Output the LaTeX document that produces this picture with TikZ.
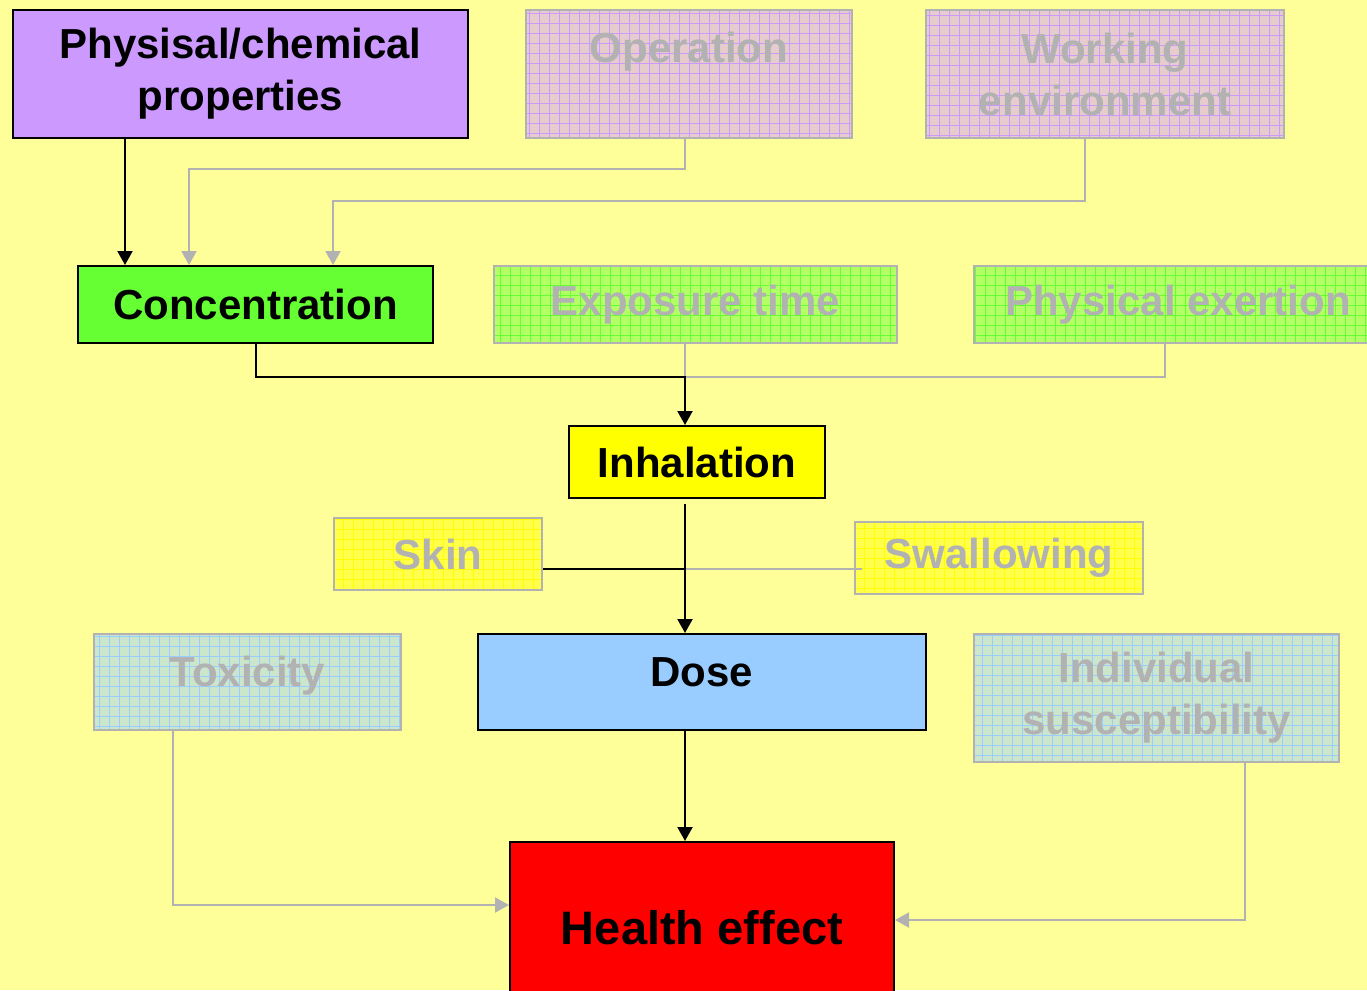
\documentclass[tikz,border=0pt]{standalone}
\usepackage{fontspec}
\setmainfont{Liberation Sans}
\usetikzlibrary{arrows.meta}

\definecolor{bgyellow}{HTML}{FFFF99}
\definecolor{cpurple}{HTML}{CC99FF}
\definecolor{cgreen}{HTML}{66FF33}
\definecolor{cyellow}{HTML}{FFFF00}
\definecolor{cblue}{HTML}{99CCFF}
\definecolor{cred}{HTML}{FF0000}
\definecolor{cgray}{HTML}{B2B2B2}
\definecolor{fpurple}{HTML}{E6CCCC}
\definecolor{fgreen}{HTML}{B2FF66}
\definecolor{fyellow}{HTML}{FFFF4C}
\definecolor{fblue}{HTML}{CCE6CC}

\tikzset{
  box/.style={anchor=north west, inner sep=0pt, align=center,
    font=\fontsize{42}{52}\selectfont\bfseries},
  solidbox/.style={box, draw=black, line width=2pt, fill=#1, text=black},
  fadedbox/.style 2 args={box, draw=cgray, line width=2pt, fill=#1, text=cgray,
    path picture={\draw[#2, line width=0.7pt]
      (path picture bounding box.south west) grid[step=10pt]
      (path picture bounding box.north east);}},
  upper/.style={text height=30pt, text depth=22pt},
  topline/.style={text height=30pt, text depth=52pt},
  blk/.style={draw=black, line width=2pt},
  gry/.style={draw=cgray, line width=2pt},
  tip/.style={-{Triangle[length=14pt,width=15pt]}},
}

\begin{document}
\begin{tikzpicture}[x=1pt, y=-1pt]
  \useasboundingbox (0,0) rectangle (1367,990);
  \clip (0,0) rectangle (1367,990);
  \fill[bgyellow] (0,0) rectangle (1367,990);

  % boxes
  \node[solidbox=cpurple, minimum width=455pt, minimum height=128pt]
    (phys) at (12,9) {Physisal/chemical\\properties};
  \node[fadedbox={fpurple}{cpurple}, topline, minimum width=326pt, minimum height=128pt]
    (oper) at (525,9) {Operation};
  \node[fadedbox={fpurple}{cpurple}, minimum width=358pt, minimum height=128pt]
    (work) at (925,9) {Working\\environment};

  \node[solidbox=cgreen, minimum width=355pt, minimum height=77pt]
    (conc) at (77,265) {Concentration};
  \node[fadedbox={fgreen}{cgreen}, minimum width=403pt, minimum height=77pt]
    (expo) at (493,265) {Exposure time};
  \node[fadedbox={fgreen}{cgreen}, minimum width=408pt, minimum height=77pt]
    (exer) at (973,265) {Physical exertion};

  \node[solidbox=cyellow, minimum width=256pt, minimum height=72pt]
    (inh) at (568,425) {Inhalation};
  \node[fadedbox={fyellow}{cyellow}, minimum width=208pt, minimum height=72pt]
    (skin) at (333,517) {Skin};
  \node[fadedbox={fyellow}{cyellow}, minimum width=288pt, minimum height=72pt]
    (swal) at (854,521) {Swallowing};

  \node[fadedbox={fblue}{cblue}, upper, minimum width=307pt, minimum height=96pt]
    (tox) at (93,633) {Toxicity};
  \node[solidbox=cblue, upper, minimum width=448pt, minimum height=96pt]
    (dose) at (477,633) {Dose};
  \node[fadedbox={fblue}{cblue}, minimum width=365pt, minimum height=128pt]
    (indi) at (973,633) {Individual\\susceptibility};

  \node[solidbox=cred, font=\fontsize{47}{56}\selectfont\bfseries,
    minimum width=384pt, minimum height=172pt]
    (health) at (509,841) {Health effect};

  % junctions and columns of the connectors
  \coordinate (colA) at (125,0);
  \coordinate (colMain) at (685,0);
  \coordinate (colWe) at (1085,0);
  \coordinate (colEx) at (1165,0);
  \coordinate (jOp) at (189,169);
  \coordinate (jWe) at (333,201);
  \coordinate (jIn) at (685,377);
  \coordinate (inhOut) at (685,504);
  \coordinate (jSk) at (685,569);
  \coordinate (jTox) at (173,905);
  \coordinate (jInd) at (1245,920);

  % faded connectors
  \draw[gry, tip] (oper.south -| colMain) |- (jOp) -- (conc.north -| jOp);
  \draw[gry, tip] (work.south -| colWe) |- (jWe) -- (conc.north -| jWe);
  \draw[gry] (expo.south -| jIn) -- (jIn);
  \draw[gry] (exer.south -| colEx) |- (jIn);
  \draw[gry] ([xshift=8pt]swal.west |- jSk) -- (jSk);
  \draw[gry, tip] (tox.south -| jTox) |- (health.west |- jTox);
  \draw[gry, tip] (indi.south -| jInd) |- (health.east |- jInd);

  % main chain
  \draw[blk, tip] (phys.south -| colA) -- (conc.north -| colA);
  \draw[blk, tip] (conc.south) |- (jIn) -- (inh.north -| jIn);
  \draw[blk] (skin.east |- jSk) -- (jSk);
  \draw[blk, tip] (inhOut) -- (dose.north -| inhOut);
  \draw[blk, tip] (dose.south -| colMain) -- (health.north -| colMain);
\end{tikzpicture}
\end{document}
